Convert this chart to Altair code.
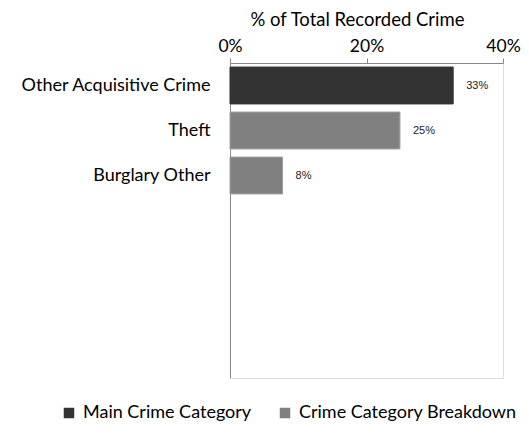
import altair as alt
import pandas as pd

categories = ["Other Acquisitive Crime", "Theft", "Burglary Other"]
values = [0.327, 0.249, 0.077]
labels = ["33%", "25%", "8%"]
groups = ["Main Crime Category", "Crime Category Breakdown", "Crime Category Breakdown"]
blank_slots = ["_1", "_2", "_3", "_4"]

df = pd.DataFrame({"cat": categories, "val": values, "lab": labels, "grp": groups})
domain = categories + blank_slots

FONT = "Lato"

y = alt.Y("cat:N", scale=alt.Scale(domain=domain, paddingInner=0.18, paddingOuter=0.09),
          axis=alt.Axis(title=None, ticks=False, labelFontSize=18, labelFont=FONT,
                        labelColor="#000", labelPadding=20, domainColor="#888",
                        labelLimit=300,
                        labelExpr="indexof(datum.label, '_') == 0 ? '' : datum.label"))

bars = alt.Chart(df).mark_bar(strokeWidth=1).encode(
    x=alt.X("val:Q", scale=alt.Scale(domain=[0, 0.4]),
            axis=alt.Axis(orient="top", format=".0%", values=[0, 0.2, 0.4],
                          title="% of Total Recorded Crime", titleFontSize=18.5,
                          titleFont=FONT, titleFontWeight="normal", titleColor="#000",
                          titlePadding=8, titleX=127, titleAlign="center",
                          labelFontSize=17.5, labelFont=FONT,
                          labelColor="#000", grid=False, domainColor="#888",
                          tickColor="#888", tickSize=5, labelPadding=3,
                          labelFlush=False)),
    y=y,
    color=alt.Color("grp:N",
                    scale=alt.Scale(domain=["Main Crime Category", "Crime Category Breakdown"],
                                    range=["#333333", "#808080"]),
                    legend=alt.Legend(title=None, orient="none", direction="horizontal",
                                      legendX=-170, legendY=341, symbolType="square",
                                      symbolSize=110, symbolStrokeWidth=0,
                                      labelFontSize=18, labelFont=FONT, labelColor="#000",
                                      columnPadding=24, labelOffset=5, labelLimit=300)),
    stroke=alt.Stroke("grp:N",
                      scale=alt.Scale(domain=["Main Crime Category", "Crime Category Breakdown"],
                                      range=["#333333", "#a0a0a0"]),
                      legend=None),
)

text = alt.Chart(df).mark_text(align="left", dx=13, fontSize=11, font="Liberation Sans",
                               color="#222").encode(
    x="val:Q", y=alt.Y("cat:N", scale=alt.Scale(domain=domain)), text="lab:N")

chart = (bars + text).properties(
    width=273, height=315,
    autosize=alt.AutoSizeParams(type="none"),
    padding={"left": 222, "top": 55, "right": 18, "bottom": 50},
).configure_view(stroke=None).configure(background="white")

chart.save("out.html", embed_options={"renderer": "svg", "actions": False})
